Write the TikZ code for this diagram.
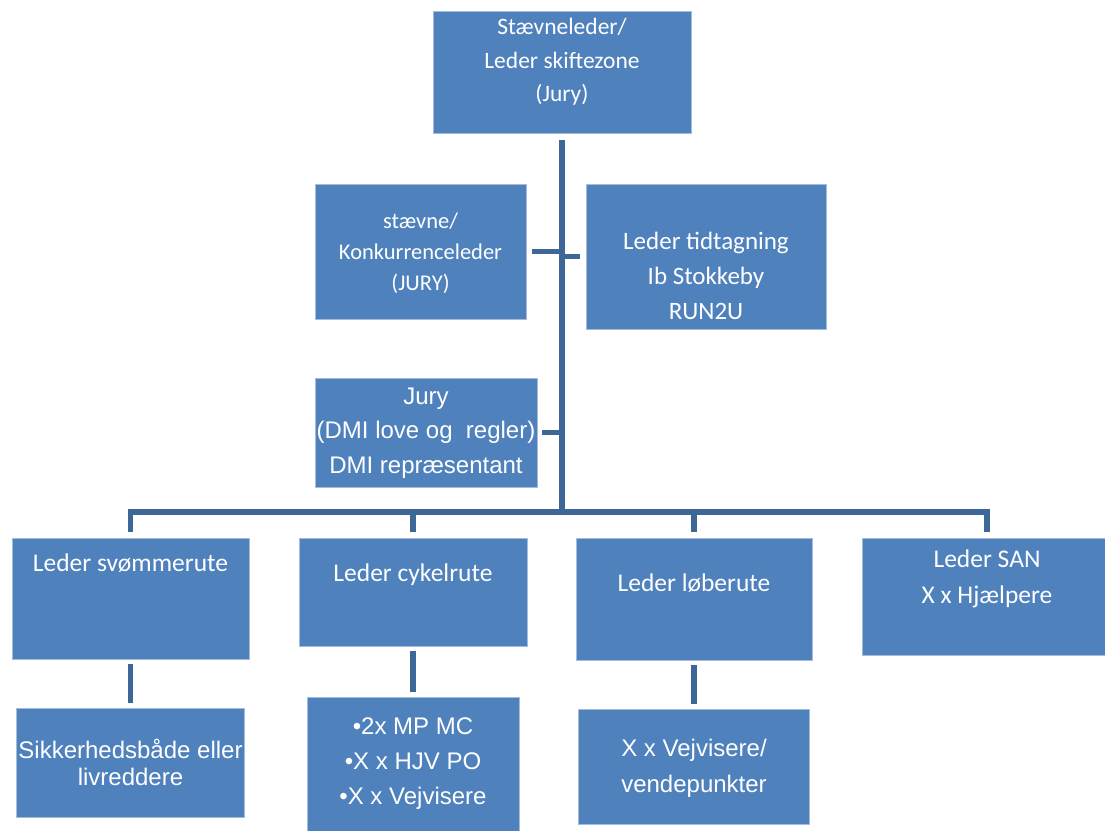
\documentclass[tikz,border=0pt]{standalone}
\usepackage{fontspec}
\setmainfont{Carlito}
\newfontfamily\arialf{Liberation Sans}
\definecolor{boxblue}{HTML}{4F81BD}
\definecolor{linkblue}{HTML}{3D6797}
\definecolor{boxedge}{HTML}{A3BCDD}
\begin{document}
\begin{tikzpicture}[x=1pt,y=-1pt,
  box/.style={draw=boxedge, line width=0.8pt, fill=boxblue, inner sep=0pt},
  txt/.style={text=white, align=center, inner sep=0pt},
  link/.style={draw=linkblue, line width=5.5pt, line join=miter}]
\useasboundingbox (0,0) rectangle (1105,830);
% boxes
\node[box, minimum width=258, minimum height=122] (top) at (562,72) {};
\node[box, minimum width=211, minimum height=135] (stv) at (420.5,251.5) {};
\node[box, minimum width=240, minimum height=145] (tid) at (706,256.5) {};
\node[box, minimum width=222, minimum height=109] (jury) at (426,432.5) {};
\node[box, minimum width=237, minimum height=121] (swim) at (130.5,598.5) {};
\node[box, minimum width=228, minimum height=108] (cyk) at (413,592) {};
\node[box, minimum width=236, minimum height=122] (lob) at (694,599) {};
\node[box, minimum width=250, minimum height=117] (san) at (987,596.5) {};
\node[box, minimum width=228, minimum height=109] (sik) at (130.5,762.5) {};
\node[box, minimum width=212, minimum height=143] (bul) at (413,768.5) {};
\node[box, minimum width=231, minimum height=115] (vej) at (694,766.5) {};
% texts
\node[txt, font=\fontsize{23.5}{33.5}\selectfont] at (562,62) {Stævneleder/\\Leder skiftezone\\(Jury)};
\node[txt, font=\fontsize{22.5}{31}\selectfont] at (420.5,253) {stævne/\\Konkurrenceleder\\(JURY)};
\node[txt, font=\fontsize{25}{35}\selectfont] at (706,276) {Leder tidtagning\\Ib Stokkeby\\RUN2U};
\node[txt, font=\arialf\fontsize{24}{34.5}\selectfont] at (426,433) {Jury\\(DMI love og\ \ regler)\\DMI repræsentant};
\node[txt, font=\fontsize{25.5}{36}\selectfont] at (130.5,563) {Leder svømmerute};
\node[txt, font=\fontsize{25.5}{36}\selectfont] at (413,575) {Leder cykelrute};
\node[txt, font=\fontsize{25.5}{36}\selectfont] at (694,583) {Leder løberute};
\node[txt, font=\fontsize{25.5}{36}\selectfont] at (987,579) {Leder SAN\\X x Hjælpere};
\node[txt, font=\arialf\fontsize{24}{27}\selectfont] at (130.5,762) {Sikkerhedsbåde eller\\livreddere};
\node[txt, font=\arialf\fontsize{24}{35}\selectfont] at (413,764) {•2x MP MC\\•X x HJV PO\\•X x Vejvisere};
\node[txt, font=\arialf\fontsize{24}{36}\selectfont] at (694,768) {X x Vejvisere/\\vendepunkter};
% connectors
\coordinate (hub) at (562,512);
\draw[link] ([yshift=-7pt]top.south) -- (hub);
\draw[link] ([xshift=6pt]stv.east) -- (stv.east -| top.south);
\draw[link] (tid.west -| top.south) -- ([xshift=-6pt]tid.west);
\draw[link] ([xshift=5pt]jury.east) -- (jury.east -| top.south);
\draw[link] ([yshift=6pt]swim.north) -- (swim.north |- hub) -- (san.north |- hub) -- ([yshift=6pt]san.north);
\draw[link] (cyk.north |- hub) -- ([yshift=6pt]cyk.north);
\draw[link] (lob.north |- hub) -- ([yshift=6pt]lob.north);
\draw[link] ([yshift=-5pt]swim.south) -- ([yshift=5pt]sik.north);
\draw[link] ([yshift=-5pt]cyk.south) -- ([yshift=5pt]bul.north);
\draw[link] ([yshift=-5pt]lob.south) -- ([yshift=5pt]vej.north);
\end{tikzpicture}
\end{document}
